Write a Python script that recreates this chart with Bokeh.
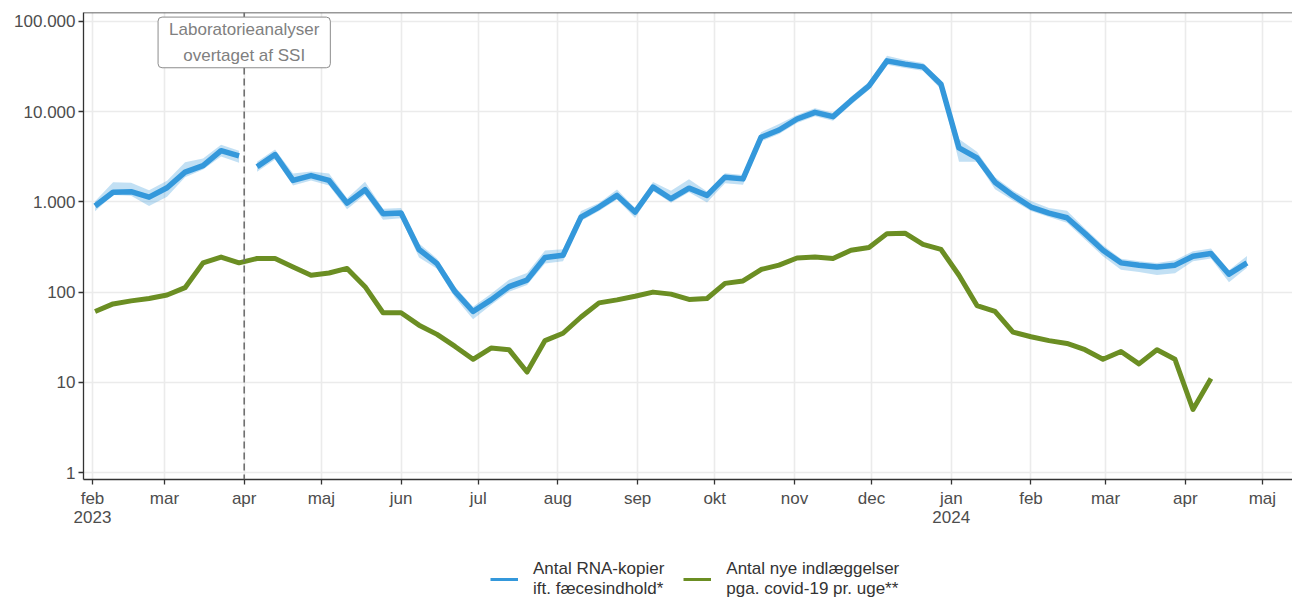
import pandas as pd
from bokeh.plotting import figure
from bokeh.layouts import column
from bokeh.models import (ColumnDataSource, Span, Label, Legend, LegendItem,
                          FixedTicker, CustomJSTickFormatter, Range1d)
from bokeh.embed import file_html
from bokeh.resources import INLINE

# ---------------- data ----------------
start_date = "2023-02-02"          # weekly points

rna_before = [900, 1280, 1300, 1130, 1435, 2140, 2530, 3700, 3240]
rna_before_lo = [790, 1190, 1170, 900, 1140, 1880, 2290, 3180, 2710]
rna_before_hi = [1020, 1650, 1630, 1350, 1720, 2760, 3020, 4310, 3680]

rna_after = [2450, 3350, 1730, 1960, 1730, 970, 1365, 740, 752, 297, 207, 101, 61, 82,
             115, 136, 242, 256, 679, 877, 1180, 772, 1460, 1085, 1420, 1180, 1880, 1800,
             5200, 6270, 8300, 9840, 8810, 13240, 19370, 36600, 33700, 31400, 20200, 3970,
             3080, 1655, 1180, 877, 752, 668, 445, 291, 211, 199, 190, 199, 250, 268, 158, 211]
rna_after_lo = [2160, 2950, 1520, 1730, 1520, 830, 1200, 635, 660, 242, 182, 87, 50, 72,
                101, 120, 208, 220, 613, 792, 1066, 663, 1320, 980, 1283, 987, 1614, 1545,
                4700, 5660, 7500, 8890, 7960, 11960, 17500, 33060, 30440, 28370, 17780, 2780,
                2780, 1385, 1039, 792, 679, 588, 382, 250, 177, 167, 155, 162, 220, 236, 129, 186]
rna_after_hi = [2780, 3810, 2070, 2170, 2070, 1100, 1670, 841, 854, 346, 235, 115, 69, 96,
                137, 163, 289, 298, 791, 971, 1375, 855, 1660, 1330, 1785, 1306, 2081, 1993,
                5910, 7300, 9190, 10890, 9750, 14660, 21440, 41580, 37310, 34760, 22360, 4990,
                3590, 1880, 1340, 1022, 854, 798, 506, 331, 234, 220, 210, 226, 284, 304, 175, 252]

admissions = [61, 74, 80, 85, 93, 112, 211, 245, 211, 236, 236, 190, 154, 163, 183, 115,
              59, 59, 43, 34, 25, 18, 24, 23, 13, 29, 35, 53, 76, 82, 90, 100, 95, 83, 85,
              125, 133, 178, 199, 239, 245, 236, 291, 312, 445, 450, 339, 297, 154, 71, 61,
              36, 32, 29, 27, 23, 18, 22, 16, 23, 18, 5, 11]

month_ticks = ["2023-02-01", "2023-03-01", "2023-04-01", "2023-05-01", "2023-06-01",
               "2023-07-01", "2023-08-01", "2023-09-01", "2023-10-01", "2023-11-01",
               "2023-12-01", "2024-01-01", "2024-02-01", "2024-03-01", "2024-04-01",
               "2024-05-01"]
month_labels = ["feb\n2023", "mar", "apr", "maj", "jun", "jul", "aug", "sep", "okt",
                "nov", "dec", "jan\n2024", "feb", "mar", "apr", "maj"]
y_ticks = [1, 10, 100, 1000, 10000, 100000]

takeover_date = "2023-04-01"
takeover_text = "Laboratorieanalyser\novertaget af SSI"
legend_labels = ["Antal RNA-kopier\nift. fæcesindhold*",
                 "Antal nye indlæggelser\npga. covid-19 pr. uge**"]

# ---------------- build ----------------
n_before = len(rna_before)
n_total = n_before + len(rna_after)
weeks = pd.date_range(start_date, periods=n_total, freq="7D")

src_before = ColumnDataSource(dict(x=weeks[:n_before], y=rna_before,
                                   lo=rna_before_lo, hi=rna_before_hi))
src_after = ColumnDataSource(dict(x=weeks[n_before:], y=rna_after,
                                  lo=rna_after_lo, hi=rna_after_hi))
src_adm = ColumnDataSource(dict(x=weeks[:len(admissions)], y=admissions))

FONT = "Liberation Sans"
BLUE = "#3498DB"
GREEN = "#6B8E23"
Y_TOP = 125800

p = figure(width=1292, height=530, x_axis_type="datetime", y_axis_type="log",
           x_range=Range1d(pd.Timestamp("2023-01-28 12:00"), pd.Timestamp("2024-05-12 17:00")),
           y_range=Range1d(0.837, Y_TOP),
           output_backend="svg", toolbar_location=None,
           min_border_left=83, min_border_right=0, min_border_top=12, min_border_bottom=50,
           background_fill_color="white", border_fill_color="white")
p.outline_line_color = None

for src in (src_before, src_after):
    p.varea(x="x", y1="lo", y2="hi", source=src, fill_color=BLUE, fill_alpha=0.3)
p.line("x", "y", source=src_before, line_color=BLUE, line_width=5.5, line_join="round")
p.line("x", "y", source=src_after, line_color=BLUE, line_width=5.5, line_join="round")
p.line("x", "y", source=src_adm, line_color=GREEN, line_width=5, line_join="round")

tick_ms = [pd.Timestamp(t).value / 1e6 for t in month_ticks]
p.xaxis.ticker = FixedTicker(ticks=tick_ms)
p.xaxis.formatter = CustomJSTickFormatter(args=dict(tvals=tick_ms, tlabels=month_labels), code="""
    for (let i = 0; i < tvals.length; i++) { if (Math.abs(tvals[i] - tick) < 1) return tlabels[i]; }
    return "";
""")
p.yaxis.ticker = FixedTicker(ticks=y_ticks)
p.yaxis.formatter = CustomJSTickFormatter(code="""
    return Math.round(tick).toString().replace(/\\B(?=(\\d{3})+(?!\\d))/g, ".");
""")

for ax in (p.xaxis, p.yaxis):
    ax.axis_line_color = "#333333"
    ax.axis_line_width = 1.3
    ax.major_tick_line_color = "#333333"
    ax.major_tick_line_width = 1.3
    ax.major_tick_out = 5
    ax.major_tick_in = 0
    ax.minor_tick_line_color = None
    ax.major_label_text_font = FONT
    ax.major_label_text_font_size = "17px"
    ax.major_label_text_color = "#4D4D4D"
p.yaxis.major_label_standoff = 3
p.xaxis.major_label_standoff = 4
p.xaxis.major_label_text_line_height = 1.05

p.grid.grid_line_color = "#EBEBEB"
p.grid.grid_line_width = 1.6
p.ygrid.minor_grid_line_color = None

p.add_layout(Span(location=Y_TOP, dimension="width", line_color="#333333", line_width=1.3))
takeover_ms = pd.Timestamp(takeover_date).value / 1e6
p.add_layout(Span(location=takeover_ms, dimension="height", line_color="#707070",
                  line_width=1.6, line_dash="7 4"))
p.add_layout(Label(x=takeover_ms, y=58600, text=takeover_text, text_align="center",
                   text_baseline="middle", text_font=FONT, text_font_size="17px",
                   text_color="#808080", text_line_height=1.35,
                   background_fill_color="white", border_line_color="#8C8C8C",
                   border_line_width=1, padding=dict(x=11, y=3), border_radius=4))

# ---------------- legend strip below the chart ----------------
leg = figure(width=1292, height=70, x_range=Range1d(0, 1), y_range=Range1d(0, 1),
             output_backend="svg", toolbar_location=None,
             x_axis_location=None, y_axis_location=None,
             min_border_left=0, min_border_right=0, min_border_top=0, min_border_bottom=0,
             background_fill_color="white", border_fill_color="white")
leg.outline_line_color = None
leg.grid.visible = False
# key renderers: their points sit outside the visible range, only the legend keys show
k_blue = leg.line(x=[5, 6], y=[5, 5], line_color=BLUE, line_width=3)
k_green = leg.line(x=[5, 6], y=[5, 5], line_color=GREEN, line_width=3)
legend = Legend(items=[LegendItem(label=legend_labels[0], renderers=[k_blue]),
                       LegendItem(label=legend_labels[1], renderers=[k_green])],
                location=(407, 1), orientation="horizontal",
                label_text_font=FONT, label_text_font_size="17px",
                label_text_color="#333333", label_text_line_height=0.97,
                glyph_width=28, glyph_height=34, label_height=34, label_standoff=15,
                spacing=19, padding=0, margin=0,
                border_line_color=None, background_fill_alpha=0)
leg.add_layout(legend)

layout = column(p, leg, spacing=0)
open("out.html", "w").write(file_html(layout, INLINE))
